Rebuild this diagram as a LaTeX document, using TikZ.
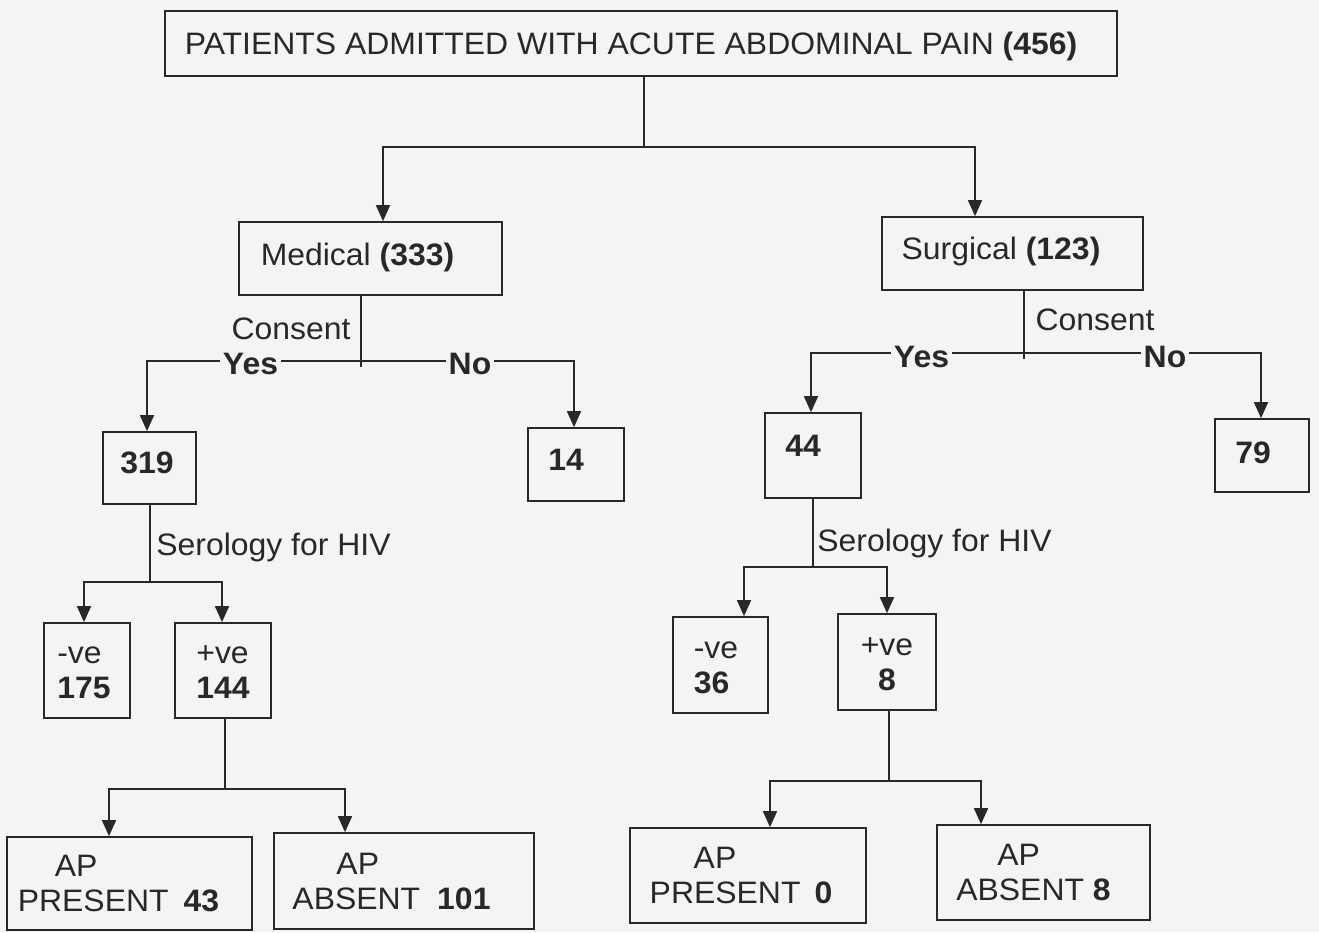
\documentclass[tikz,border=0pt]{standalone}
\usepackage{fontspec}
\setmainfont{Liberation Sans}[FakeStretch=1.03]
\usetikzlibrary{arrows.meta}
\definecolor{bg}{RGB}{244,244,244}
\definecolor{ink}{RGB}{40,40,40}
\begin{document}
\begin{tikzpicture}[x=1pt,y=-1pt,
  box/.style={draw=ink, line width=1.7pt, inner sep=0pt, text=ink, font=\fontsize{31}{35}\selectfont},
  one/.style={text height=22pt, text depth=0pt},
  multi/.style={align=left},
  lab/.style={text=ink, inner xsep=3pt, inner ysep=0pt, text height=22pt, text depth=0pt, font=\fontsize{31}{35}\selectfont},
  cut/.style={lab, fill=bg},
  con/.style={draw=ink, line width=1.7pt},
  arr/.style={con, -{Triangle[width=14pt,length=16pt]}},
]
\fill[bg] (0,0) rectangle (1319,932);
\useasboundingbox (0,0) rectangle (1319,932);

% boxes
\node[box,one,minimum width=952pt,minimum height=65pt] (top) at (641,43.5) {\hspace*{-20pt}PATIENTS ADMITTED WITH ACUTE ABDOMINAL PAIN \textbf{(456)}};
\node[box,one,minimum width=263pt,minimum height=73pt] (med) at (370.5,258.5) {\hspace*{-26pt}\raisebox{4.5pt}{Medical \textbf{(333)}}};
\node[box,one,minimum width=261pt,minimum height=73pt] (surg) at (1012.5,253.5) {\hspace*{-23pt}\raisebox{5.5pt}{Surgical \textbf{(123)}}};
\node[box,one,minimum width=93pt,minimum height=72pt] (n319) at (149.5,468) {\hspace*{-5pt}\raisebox{6pt}{\textbf{319}}};
\node[box,one,minimum width=96pt,minimum height=73pt] (n14) at (576,464.5) {\hspace*{-20pt}\raisebox{5.5pt}{\textbf{14}}};
\node[box,one,minimum width=96pt,minimum height=85pt] (n44) at (813,455.5) {\hspace*{-20pt}\raisebox{10.5pt}{\textbf{44}}};
\node[box,one,minimum width=94pt,minimum height=73pt] (n79) at (1262,455.5) {\hspace*{-18pt}\raisebox{3.5pt}{\textbf{79}}};

\node[box,multi,minimum width=86pt,minimum height=95pt] (negM) at (87,670.5) {-ve\vphantom{0}\\\textbf{175}\kern6pt};
\node[box,multi,minimum width=96pt,minimum height=95pt] (posM) at (223,670.5) {+ve\vphantom{0}\\\textbf{144}};
\node[box,multi,minimum width=95pt,minimum height=96pt] (negS) at (720.5,665) {-ve\vphantom{0}\kern9pt\\\textbf{36}};
\node[box,align=center,minimum width=98pt,minimum height=96pt] (posS) at (887,662) {+ve\vphantom{0}\\\textbf{8}};

\node[box,multi,minimum width=245pt,minimum height=93pt] (apPM) at (129.5,883.5) {\hspace*{37pt}AP\\PRESENT\hspace{15pt}\textbf{43}\kern22pt};
\node[box,multi,minimum width=260pt,minimum height=96pt] (apAM) at (404,881) {\hspace*{44pt}AP\\ABSENT\hspace{17pt}\textbf{101}\kern25pt};
\node[box,multi,minimum width=236pt,minimum height=95pt] (apPS) at (748,875.5) {\hspace*{44pt}AP\\PRESENT\hspace{14pt}\textbf{0}\kern14pt};
\node[box,multi,minimum width=213pt,minimum height=95pt] (apAS) at (1043.5,872.5) {\hspace*{41pt}AP\\ABSENT \textbf{8}\kern20pt};

% top split
\coordinate (j0) at (644,147);
\coordinate (jM) at (383,147);
\coordinate (jS) at (975,147);
\draw[con] (top.south -| j0) -- (j0);
\draw[arr] (j0) -- (jM) -- (jM |- med.north);
\draw[arr] (j0) -- (jS) -- (jS |- surg.north);

% medical consent
\coordinate (cM) at (361,361);
\coordinate (cMb) at (361,367);
\coordinate (yM) at (147,361);
\coordinate (nM) at (574,361);
\draw[con] (med.south -| cM) -- (cMb);
\draw[arr] (cM) -- (yM) -- (yM |- n319.north);
\draw[arr] (cM) -- (nM) -- (nM |- n14.north);

% surgical consent
\coordinate (cS) at (1024,353);
\coordinate (cSb) at (1024,359);
\coordinate (yS) at (811,353);
\coordinate (nS) at (1261,353);
\draw[con] (surg.south -| cS) -- (cSb);
\draw[arr] (cS) -- (yS) -- (yS |- n44.north);
\draw[arr] (cS) -- (nS) -- (nS |- n79.north);

% serology medical
\coordinate (sM) at (150,582);
\coordinate (sMl) at (84,582);
\coordinate (sMr) at (222,582);
\draw[con] (n319.south -| sM) -- (sM);
\draw[arr] (sM) -- (sMl) -- (sMl |- negM.north);
\draw[arr] (sM) -- (sMr) -- (sMr |- posM.north);

% serology surgical
\coordinate (sS) at (813,567);
\coordinate (sSl) at (744,567);
\coordinate (sSr) at (887,567);
\draw[con] (n44.south -| sS) -- (sS);
\draw[arr] (sS) -- (sSl) -- (sSl |- negS.north);
\draw[arr] (sS) -- (sSr) -- (sSr |- posS.north);

% +ve medical
\coordinate (pM) at (225,789);
\coordinate (pMl) at (109,789);
\coordinate (pMr) at (345,789);
\draw[con] (posM.south -| pM) -- (pM);
\draw[arr] (pM) -- (pMl) -- (pMl |- apPM.north);
\draw[arr] (pM) -- (pMr) -- (pMr |- apAM.north);

% +ve surgical
\coordinate (pS) at (889,781);
\coordinate (pSl) at (770,781);
\coordinate (pSr) at (981,781);
\draw[con] (posS.south -| pS) -- (pS);
\draw[arr] (pS) -- (pSl) -- (pSl |- apPS.north);
\draw[arr] (pS) -- (pSr) -- (pSr |- apAS.north);

% labels
\node[lab] (consM) at (291,328) {Consent};
\node[cut] (yesM) at (250.5,363.5) {\textbf{Yes}};
\node[cut] (noM) at (470,363) {\textbf{No}};
\node[lab] (consS) at (1095,319) {Consent};
\node[cut] (yesS) at (921.5,356) {\textbf{Yes}};
\node[cut] (noS) at (1165,356) {\textbf{No}};
\node[lab] (serM) at (273.5,544) {Serology for HIV};
\node[lab] (serS) at (934.5,540) {Serology for HIV};
\end{tikzpicture}
\end{document}
